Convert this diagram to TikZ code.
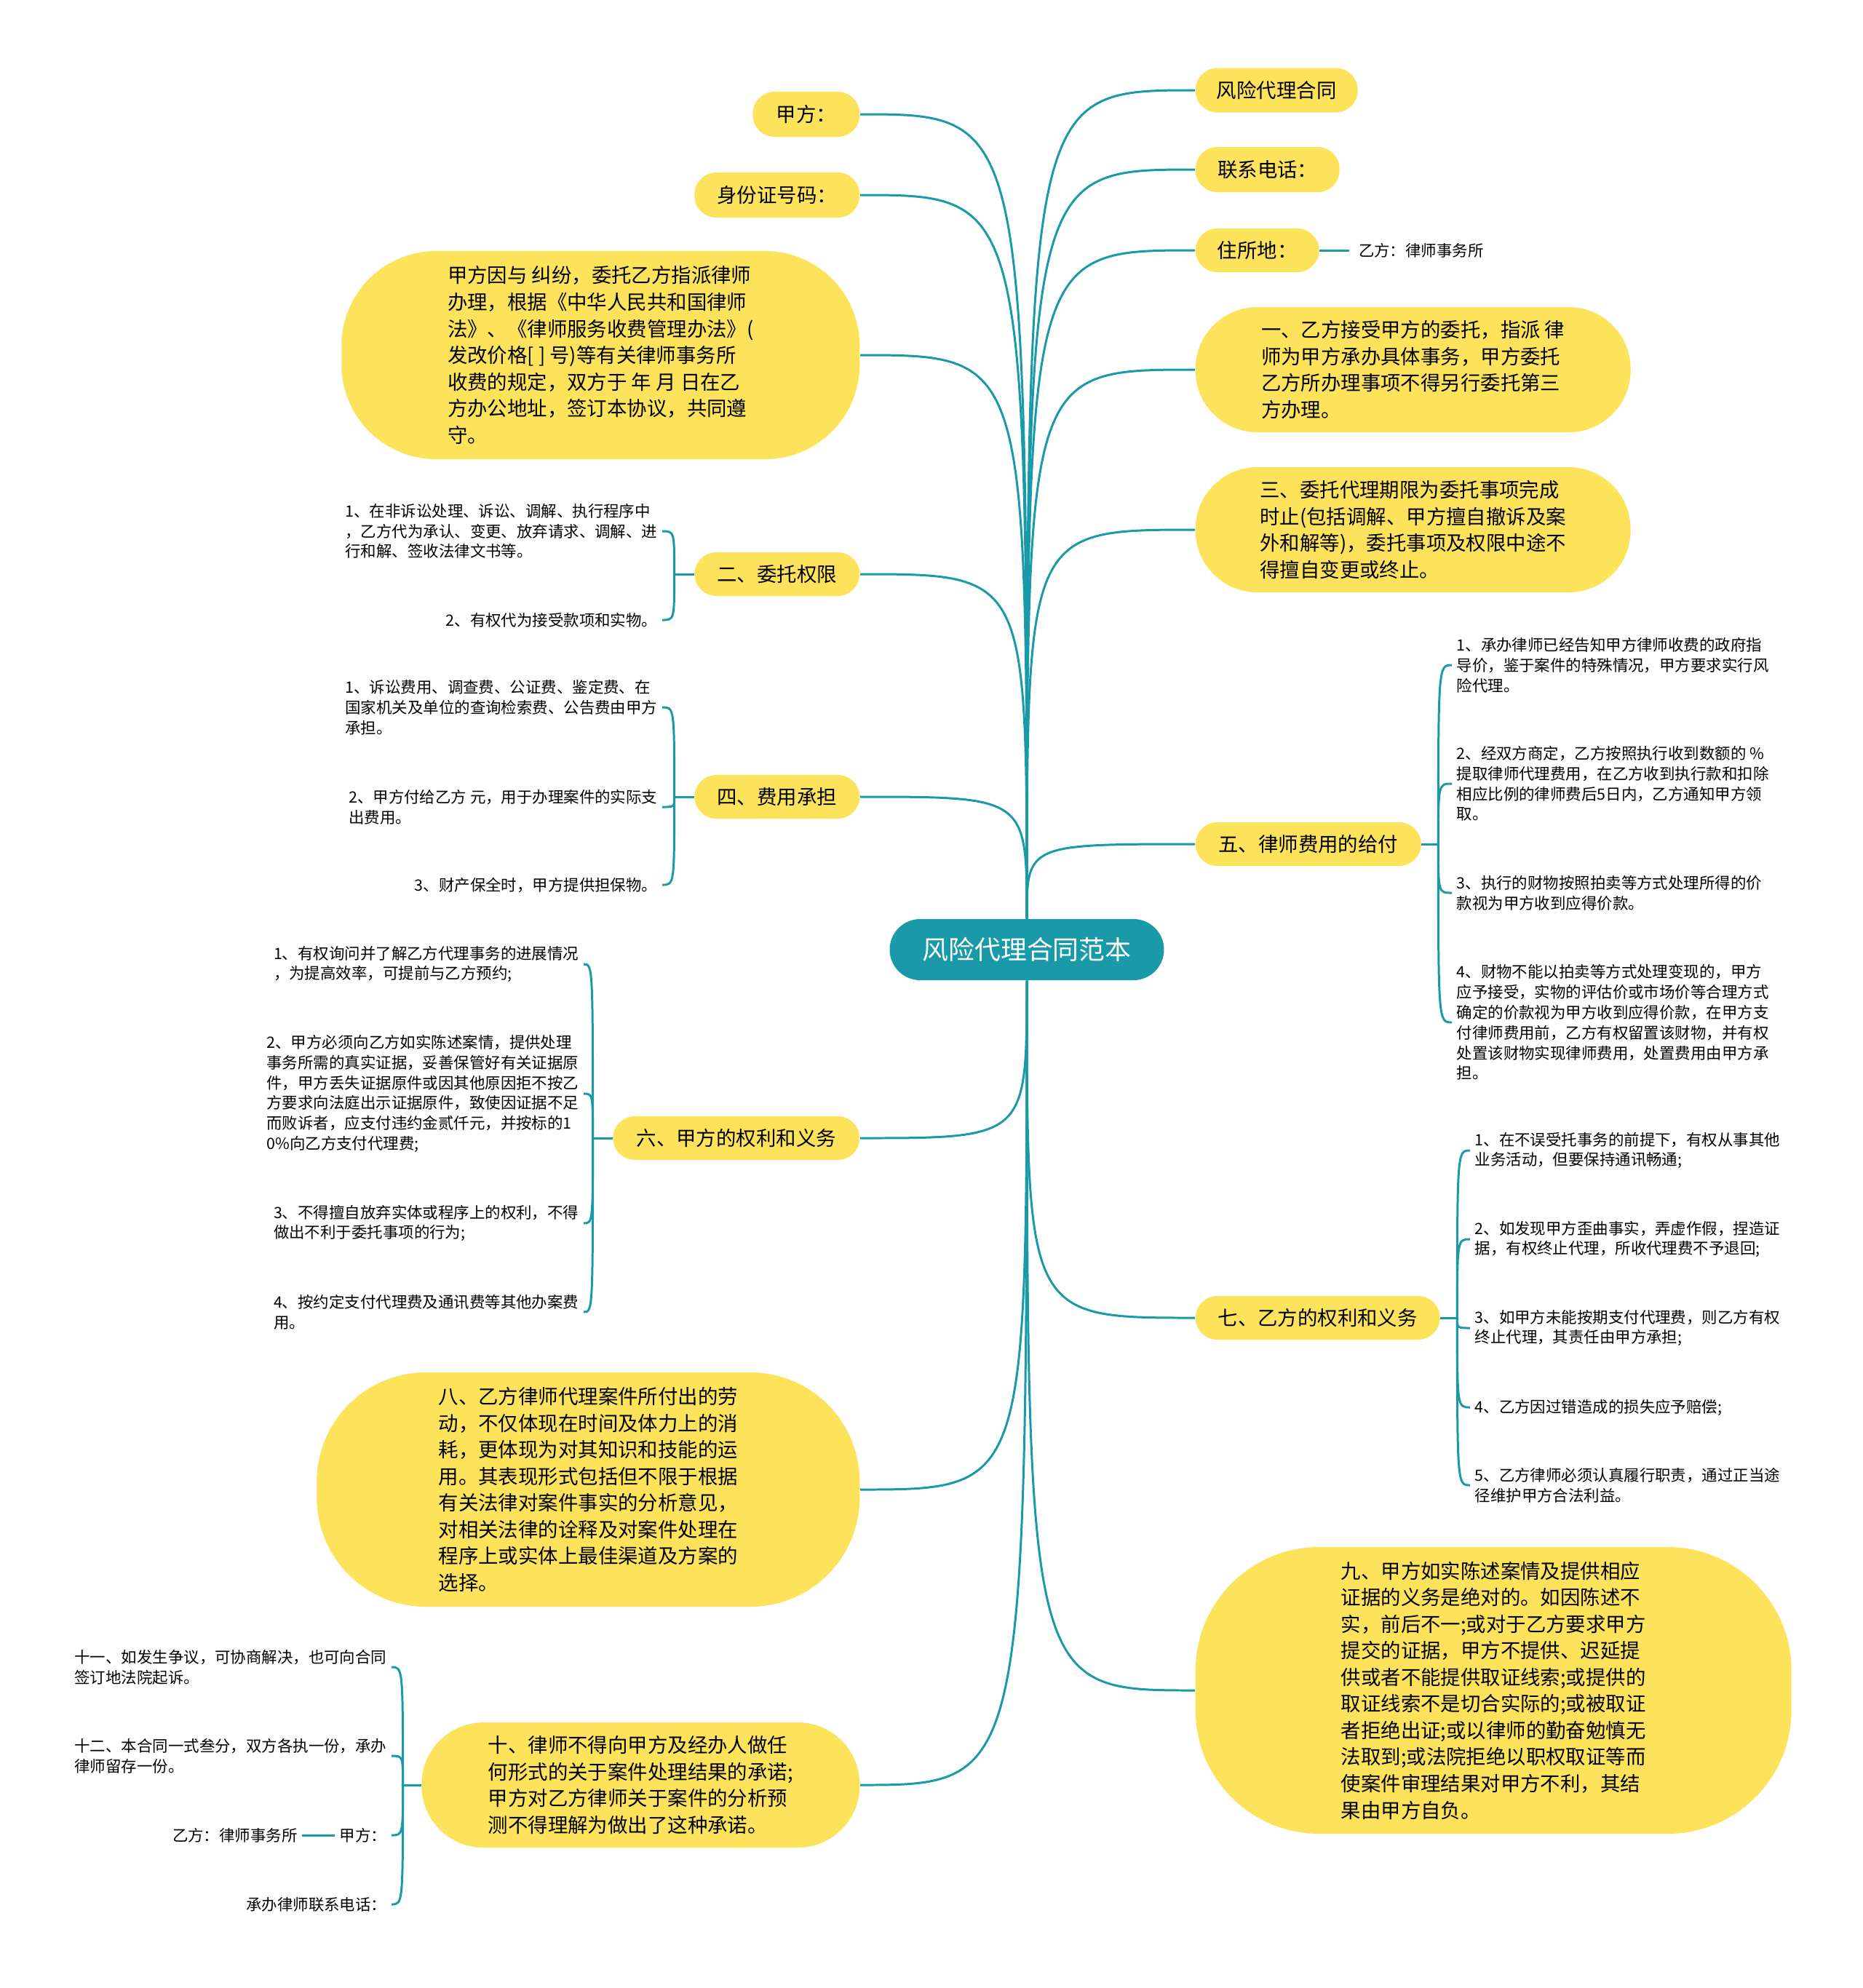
\documentclass[tikz,border=0pt]{standalone}
\usepackage{fontspec}
\setmainfont{Noto Sans CJK SC}
\usetikzlibrary{positioning}
\definecolor{pillyellow}{HTML}{FDE35B}
\definecolor{linkteal}{HTML}{1A9AA8}

\begin{document}
\begin{tikzpicture}[
    pill/.style={fill=pillyellow, rounded corners=0.3cm, inner sep=0, align=left,
      font=\fontsize{7.8}{10.4}\selectfont},
    leaf/.style={inner xsep=0.06cm, inner ysep=0, align=left,
      font=\fontsize{6.1}{7.9}\selectfont},
    link/.style={draw=linkteal, line width=0.85pt},
]
  \useasboundingbox (0,0) rectangle (25.6,-27.32);

  % centre
  \node[fill=linkteal, text=white, rounded corners=0.42cm, minimum width=3.77cm,
    minimum height=0.84cm, font=\fontsize{10.2}{12}\selectfont] (root) at (14.11,-13.05) {风险代理合同范本};

  % left side
  \node[pill, anchor=east, minimum width=1.47cm, minimum height=0.62cm] (ljia) at (11.82,-1.57) {甲方：};
  \node[pill, anchor=east, minimum width=2.27cm, minimum height=0.62cm] (lsfz) at (11.82,-2.68) {身份证号码：};
  \node[pill, anchor=east, minimum width=7.12cm, minimum height=2.86cm, rounded corners=1.3cm] (lpre) at (11.82,-4.88)
    {甲方因与 纠纷，委托乙方指派律师\\办理，根据《中华人民共和国律师\\法》、《律师服务收费管理办法》(\\发改价格[ ] 号)等有关律师事务所\\收费的规定，双方于 年 月 日在乙\\方办公地址，签订本协议，共同遵\\守。};
  \node[pill, anchor=east, minimum width=2.27cm, minimum height=0.6cm] (ler) at (11.82,-7.89) {二、委托权限};
  \node[pill, anchor=east, minimum width=2.27cm, minimum height=0.6cm] (lsi) at (11.82,-10.95) {四、费用承担};
  \node[pill, anchor=east, minimum width=3.39cm, minimum height=0.6cm] (lliu) at (11.82,-15.64) {六、甲方的权利和义务};
  \node[pill, anchor=east, minimum width=7.46cm, minimum height=3.22cm, rounded corners=1.5cm] (lba) at (11.82,-20.47)
    {八、乙方律师代理案件所付出的劳\\动，不仅体现在时间及体力上的消\\耗，更体现为对其知识和技能的运\\用。其表现形式包括但不限于根据\\有关法律对案件事实的分析意见，\\对相关法律的诠释及对案件处理在\\程序上或实体上最佳渠道及方案的\\选择。};
  \node[pill, anchor=east, minimum width=6.02cm, minimum height=1.72cm, rounded corners=0.85cm] (lshi) at (11.82,-24.53)
    {十、律师不得向甲方及经办人做任\\何形式的关于案件处理结果的承诺;\\甲方对乙方律师关于案件的分析预\\测不得理解为做出了这种承诺。};

  % right side
  \node[pill, anchor=west, minimum width=2.23cm, minimum height=0.61cm] (rfx) at (16.42,-1.24) {风险代理合同};
  \node[pill, anchor=west, minimum width=1.98cm, minimum height=0.62cm] (rtel) at (16.42,-2.33) {联系电话：};
  \node[pill, anchor=west, minimum width=1.70cm, minimum height=0.6cm] (raddr) at (16.42,-3.44) {住所地：};
  \node[pill, anchor=west, minimum width=5.98cm, minimum height=1.72cm, rounded corners=0.85cm] (ryi) at (16.42,-5.08)
    {一、乙方接受甲方的委托，指派 律\\师为甲方承办具体事务，甲方委托\\乙方所办理事项不得另行委托第三\\方办理。};
  \node[pill, anchor=west, minimum width=5.98cm, minimum height=1.72cm, rounded corners=0.85cm] (rsan) at (16.42,-7.28)
    {三、委托代理期限为委托事项完成\\时止(包括调解、甲方擅自撤诉及案\\外和解等)，委托事项及权限中途不\\得擅自变更或终止。};
  \node[pill, anchor=west, minimum width=3.10cm, minimum height=0.6cm] (rwu) at (16.42,-11.60) {五、律师费用的给付};
  \node[pill, anchor=west, minimum width=3.36cm, minimum height=0.6cm] (rqi) at (16.42,-18.11) {七、乙方的权利和义务};
  \node[pill, anchor=west, minimum width=8.19cm, minimum height=3.94cm, rounded corners=1.7cm] (rjiu) at (16.42,-23.23)
    {九、甲方如实陈述案情及提供相应\\证据的义务是绝对的。如因陈述不\\实，前后不一;或对于乙方要求甲方\\提交的证据，甲方不提供、迟延提\\供或者不能提供取证线索;或提供的\\取证线索不是切合实际的;或被取证\\者拒绝出证;或以律师的勤奋勉慎无\\法取到;或法院拒绝以职权取证等而\\使案件审理结果对甲方不利，其结\\果由甲方自负。};

  % leaves
  \node[leaf, anchor=east] (ler1) at (9.10,-7.30) {1、在非诉讼处理、诉讼、调解、执行程序中\\，乙方代为承认、变更、放弃请求、调解、进\\行和解、签收法律文书等。};
  \node[leaf, anchor=east] (ler2) at (9.10,-8.52) {2、有权代为接受款项和实物。};

  \node[leaf, anchor=east] (lsi1) at (9.10,-9.72) {1、诉讼费用、调查费、公证费、鉴定费、在\\国家机关及单位的查询检索费、公告费由甲方\\承担。};
  \node[leaf, anchor=east] (lsi2) at (9.10,-11.09) {2、甲方付给乙方 元，用于办理案件的实际支\\出费用。};
  \node[leaf, anchor=east] (lsi3) at (9.10,-12.16) {3、财产保全时，甲方提供担保物。};

  \node[leaf, anchor=east] (lliu1) at (8.02,-13.25) {1、有权询问并了解乙方代理事务的进展情况\\，为提高效率，可提前与乙方预约;};
  \node[leaf, anchor=east] (lliu2) at (8.02,-15.03) {2、甲方必须向乙方如实陈述案情，提供处理\\事务所需的真实证据，妥善保管好有关证据原\\件，甲方丢失证据原件或因其他原因拒不按乙\\方要求向法庭出示证据原件，致使因证据不足\\而败诉者，应支付违约金贰仟元，并按标的1\\0\%向乙方支付代理费;};
  \node[leaf, anchor=east] (lliu3) at (8.02,-16.81) {3、不得擅自放弃实体或程序上的权利，不得\\做出不利于委托事项的行为;};
  \node[leaf, anchor=east] (lliu4) at (8.02,-18.03) {4、按约定支付代理费及通讯费等其他办案费\\用。};

  \node[leaf, anchor=east] (lshi1) at (5.38,-22.91) {十一、如发生争议，可协商解决，也可向合同\\签订地法院起诉。};
  \node[leaf, anchor=east] (lshi2) at (5.38,-24.13) {十二、本合同一式叁分，双方各执一份，承办\\律师留存一份。};
  \node[leaf, anchor=east] (lshi3) at (5.38,-25.22) {甲方：};
  \node[leaf, left=0.45cm of lshi3] (lshi3a) {乙方：律师事务所};
  \node[leaf, anchor=east] (lshi4) at (5.38,-26.17) {承办律师联系电话：};

  \node[leaf, right=0.41cm of raddr, inner xsep=0.12cm] (raddr1) {乙方：律师事务所};

  \node[leaf, anchor=west] (rwu1) at (19.95,-9.14) {1、承办律师已经告知甲方律师收费的政府指\\导价，鉴于案件的特殊情况，甲方要求实行风\\险代理。};
  \node[leaf, anchor=west] (rwu2) at (19.95,-10.77) {2、经双方商定，乙方按照执行收到数额的 \%\\提取律师代理费用，在乙方收到执行款和扣除\\相应比例的律师费后5日内，乙方通知甲方领\\取。};
  \node[leaf, anchor=west] (rwu3) at (19.95,-12.27) {3、执行的财物按照拍卖等方式处理所得的价\\款视为甲方收到应得价款。};
  \node[leaf, anchor=west] (rwu4) at (19.95,-14.05) {4、财物不能以拍卖等方式处理变现的，甲方\\应予接受，实物的评估价或市场价等合理方式\\确定的价款视为甲方收到应得价款，在甲方支\\付律师费用前，乙方有权留置该财物，并有权\\处置该财物实现律师费用，处置费用由甲方承\\担。};

  \node[leaf, anchor=west] (rqi1) at (20.20,-15.81) {1、在不误受托事务的前提下，有权从事其他\\业务活动，但要保持通讯畅通;};
  \node[leaf, anchor=west] (rqi2) at (20.20,-17.03) {2、如发现甲方歪曲事实，弄虚作假，捏造证\\据，有权终止代理，所收代理费不予退回;};
  \node[leaf, anchor=west] (rqi3) at (20.20,-18.25) {3、如甲方未能按期支付代理费，则乙方有权\\终止代理，其责任由甲方承担;};
  \node[leaf, anchor=west] (rqi4) at (20.20,-19.34) {4、乙方因过错造成的损失应予赔偿;};
  \node[leaf, anchor=west] (rqi5) at (20.20,-20.41) {5、乙方律师必须认真履行职责，通过正当途\\径维护甲方合法利益。};

  % links from the centre
  \foreach \n in {ljia,lsfz,lpre,ler,lsi}
    \draw[link] (root.north) .. controls (root.north |- \n.east) and (root.north |- \n.east) .. (\n.east);
  \foreach \n in {lliu,lba,lshi}
    \draw[link] (root.south) .. controls (root.south |- \n.east) and (root.south |- \n.east) .. (\n.east);
  \foreach \n in {rfx,rtel,raddr,ryi,rsan,rwu}
    \draw[link] (root.north) .. controls (root.north |- \n.west) and (root.north |- \n.west) .. (\n.west);
  \foreach \n in {rqi,rjiu}
    \draw[link] (root.south) .. controls (root.south |- \n.west) and (root.south |- \n.west) .. (\n.west);

  % brackets
  \draw[link] (ler.west) -- ++(-0.27,0) coordinate (b2);
  \foreach \c in {ler1,ler2}
    \draw[link] (b2) .. controls (b2 |- \c.east) and (b2 |- \c.east) .. (\c.east);
  \draw[link] (lsi.west) -- ++(-0.27,0) coordinate (b4);
  \foreach \c in {lsi1,lsi2,lsi3}
    \draw[link] (b4) .. controls (b4 |- \c.east) and (b4 |- \c.east) .. (\c.east);
  \draw[link] (lliu.west) -- ++(-0.27,0) coordinate (b6);
  \foreach \c in {lliu1,lliu2,lliu3,lliu4}
    \draw[link] (b6) .. controls (b6 |- \c.east) and (b6 |- \c.east) .. (\c.east);
  \draw[link] (lshi.west) -- ++(-0.25,0) coordinate (b10);
  \foreach \c in {lshi1,lshi2,lshi3,lshi4}
    \draw[link] (b10) .. controls (b10 |- \c.east) and (b10 |- \c.east) .. (\c.east);
  \draw[link] (lshi3.west) -- (lshi3a.east);
  \draw[link] (raddr.east) -- (raddr1.west);
  \draw[link] (rwu.east) -- ++(0.23,0) coordinate (b5);
  \foreach \c in {rwu1,rwu2,rwu3,rwu4}
    \draw[link] (b5) .. controls (b5 |- \c.west) and (b5 |- \c.west) .. (\c.west);
  \draw[link] (rqi.east) -- ++(0.23,0) coordinate (b7);
  \foreach \c in {rqi1,rqi2,rqi3,rqi4,rqi5}
    \draw[link] (b7) .. controls (b7 |- \c.west) and (b7 |- \c.west) .. (\c.west);
\end{tikzpicture}
\end{document}
